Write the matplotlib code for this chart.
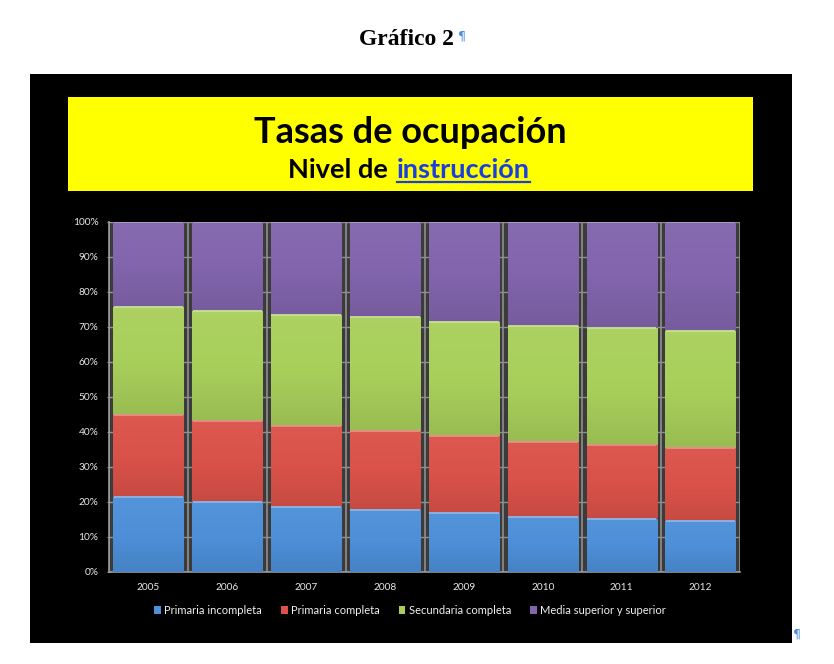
import matplotlib
matplotlib.use('Agg')
import matplotlib.pyplot as plt
import numpy as np
from matplotlib.patches import Rectangle
from matplotlib.lines import Line2D
import matplotlib.colors as mcolors

years = ['2005', '2006', '2007', '2008', '2009', '2010', '2011', '2012']
primaria_incompleta = [21.3, 19.8, 18.4, 17.6, 16.7, 15.7, 15.2, 14.5]
primaria_completa = [23.5, 23.3, 23.2, 22.6, 22.2, 21.3, 20.9, 20.8]
secundaria_completa = [30.9, 31.5, 31.7, 32.7, 32.5, 33.2, 33.4, 33.5]
media_superior = [24.3, 25.4, 26.7, 27.1, 28.6, 29.8, 30.5, 31.2]
series_names = ['Primaria incompleta', 'Primaria completa',
                'Secundaria completa', 'Media superior y superior']
y_ticks = [0, 10, 20, 30, 40, 50, 60, 70, 80, 90, 100]

colors = ['#4d8fd8', '#da5249', '#a9cf5b', '#8265ad']
W, H = 834, 664

fig = plt.figure(figsize=(W / 100, H / 100), dpi=100)
fig.patch.set_facecolor('white')

def fx(px):
    return px / W

def fy(py):
    return 1 - py / H

# page title
fig.text(fx(406), fy(45), 'Gráfico 2', family='Liberation Serif', weight='bold',
         fontsize=17, ha='center', va='baseline', color='black')
fig.text(fx(462), fy(36), '¶', family='DejaVu Sans', fontsize=9, color='#4a8de0',
         ha='center', va='center')
fig.text(fx(797), fy(634), '¶', family='DejaVu Sans', fontsize=9, color='#4a8de0',
         ha='center', va='center')

# black panel and yellow title box
fig.add_artist(Rectangle((fx(30), fy(643)), fx(792) - fx(30), fy(74) - fy(643),
                         transform=fig.transFigure, facecolor='black',
                         edgecolor='none', zorder=0))
fig.add_artist(Rectangle((fx(68), fy(191)), fx(753) - fx(68), fy(97) - fy(191),
                         transform=fig.transFigure, facecolor='#ffff00',
                         edgecolor='none', zorder=1))
fig.text(fx(410), fy(143), 'Tasas de ocupación', family='Lato', weight='bold',
         fontsize=26, ha='center', va='baseline', color='black', zorder=2)
fig.text(fx(388), fy(177.5), 'Nivel de', family='Lato', weight='bold',
         fontsize=19.5, ha='right', va='baseline', color='black', zorder=2)
t_instr = fig.text(fx(397), fy(177.5), 'instrucción', family='Lato', weight='bold',
                   fontsize=19.5, ha='left', va='baseline', color='#1a3ee0', zorder=2)
renderer = fig.canvas.get_renderer()
bb = t_instr.get_window_extent(renderer)
fig.add_artist(Line2D([bb.x0 / W, bb.x1 / W], [fy(181.5), fy(181.5)],
                      transform=fig.transFigure, color='#1a3ee0', lw=1.6, zorder=2))

# plot axes
ax = fig.add_axes([fx(109), fy(571.7), fx(740) - fx(109), fy(221.7) - fy(571.7)])
ax.set_facecolor('#3b3b3b')

x = np.arange(len(years))
data = [primaria_incompleta, primaria_completa, secundaria_completa, media_superior]
bottom = np.zeros(len(years))
bar_width = 0.89

def shade(c, f):
    r, g, b = mcolors.to_rgb(c)
    if f >= 1:
        return (r + (1 - r) * (f - 1), g + (1 - g) * (f - 1), b + (1 - b) * (f - 1))
    return (r * f, g * f, b * f)

for vals, c, name in zip(data, colors, series_names):
    bars = ax.bar(x, vals, bottom=bottom, width=bar_width, color=c, edgecolor='none',
                  zorder=3, label=name)
    cmap = mcolors.LinearSegmentedColormap.from_list(
        'g', [shade(c, 0.91), shade(c, 1.0), shade(c, 1.04)])
    grad = np.linspace(0, 1, 64).reshape(-1, 1)
    for p in bars:
        x0, y0 = p.get_x(), p.get_y()
        w, h = p.get_width(), p.get_height()
        im = ax.imshow(grad, extent=(x0, x0 + w, y0, y0 + h), origin='lower',
                       aspect='auto', cmap=cmap, zorder=3.5, interpolation='bilinear')
        im.set_clip_path(p)
        ax.plot([x0 + 0.005, x0 + w - 0.005], [y0 + h, y0 + h],
                color=shade(c, 1.35), lw=1.3, zorder=4, solid_capstyle='butt')
    bottom = bottom + np.array(vals)

ax.set_xlim(-0.5, len(years) - 0.5)
ax.set_ylim(0, 100)

# gridlines (visible only in the gaps)
for yv in y_ticks:
    ax.axhline(yv, color='#8f8f8f', lw=1.0, zorder=1)
for i in range(len(years) + 1):
    ax.axvline(i - 0.5, color='#8f8f8f', lw=1.2, zorder=1)

for s in ['top', 'right']:
    ax.spines[s].set_visible(False)
for s in ['left', 'bottom']:
    ax.spines[s].set_color('#9a9a9a')
    ax.spines[s].set_linewidth(1.2)

ax.set_yticks(y_ticks)
ax.set_yticklabels([f'{v}%' for v in y_ticks])
ax.set_xticks(x)
ax.set_xticklabels(years)
ax.tick_params(axis='y', colors='#9a9a9a', labelcolor='#e8e8e8', length=3,
               direction='inout', labelsize=7.3, pad=6)
ax.tick_params(axis='x', length=0, labelcolor='#e8e8e8', labelsize=7.3, pad=8)
for lbl in ax.get_xticklabels() + ax.get_yticklabels():
    lbl.set_family('Lato')

handles = [Rectangle((0, 0), 1, 1, facecolor=c, edgecolor='none') for c in colors]
leg = fig.legend(handles, series_names, loc='center', bbox_to_anchor=(fx(410), fy(610)),
                 ncol=4, frameon=False, handlelength=0.6, handleheight=0.7,
                 handletextpad=0.3, columnspacing=1.7,
                 prop={'family': 'Lato', 'size': 8})
for t in leg.get_texts():
    t.set_color('#f0f0f0')

fig.savefig('out.png', dpi=100, facecolor='white')
